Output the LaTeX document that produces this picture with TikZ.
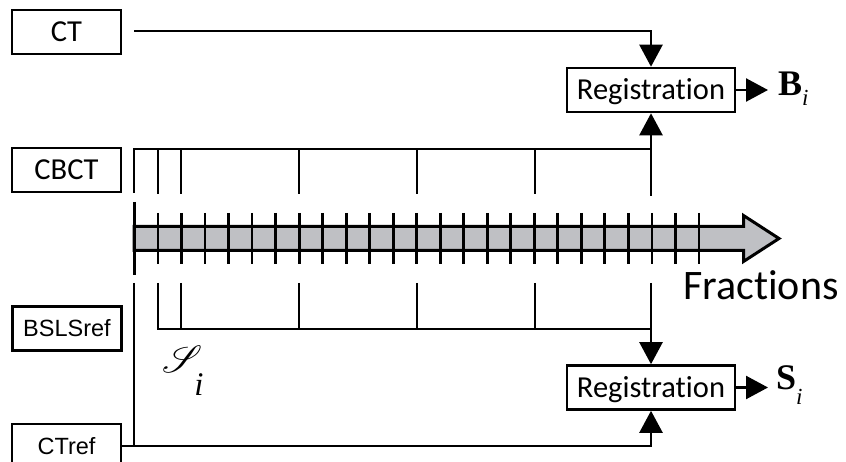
\documentclass[tikz,border=0pt]{standalone}
\usepackage{graphicx}
\usepackage{fontspec}
\usepackage{mathrsfs}
\setmainfont{Carlito}[Ligatures=NoCommon]
\newfontfamily\arialfont{Liberation Sans}
\newfontfamily\timesfont{Liberation Serif}
\usetikzlibrary{arrows.meta}
\definecolor{bandgray}{RGB}{191,192,196}

\begin{document}
\begin{tikzpicture}[x=1pt,y=-1pt,
  box/.style={draw, line width=2.6pt, minimum width=109pt, minimum height=44pt,
    inner sep=0pt, text height=19.6pt, text depth=0pt,
    font=\fontsize{30.5}{30.5}\selectfont},
  refbox/.style={box, text height=16.8pt, font=\arialfont\fontsize{23.5}{23.5}\selectfont},
  regbox/.style={box, minimum width=168pt},
  outlabel/.style={anchor=base west, inner sep=0pt,
    font=\timesfont\fontsize{36}{36}\selectfont\bfseries},
  link/.style={line width=2.4pt},
  tip/.style={link, -{Triangle[length=22pt,width=23pt]}},
  tickmark/.style={line width=2.8pt},
]
\useasboundingbox (0,0) rectangle (846,462);

% input boxes
\node[box]    (ct)    at (66.5,32)  {CT};
\node[box]    (cbct)  at (66.5,170) {CBCT};
\node[refbox] (bsls)  at (67,328.5) {BSLSref};
\node[refbox] (ctref) at (66.5,446) {CTref};

% registration blocks
\node[regbox] (reg1) at (651,90)    {Registration};
\node[regbox] (reg2) at (651,387.5) {Registration};

% outputs
\coordinate (b-end) at (768,90);
\coordinate (s-end) at (768,387.5);
\node[outlabel] (bout) at (778,96)
  {B\raisebox{-10pt}{\mdseries\itshape\fontsize{23}{23}\selectfont i}};
\node[outlabel] (sout) at (776,389)
  {S\raisebox{-15pt}{\mdseries\itshape\fontsize{23}{23}\selectfont i}};
\draw[tip] (reg1.east) -- (b-end);
\draw[tip] (reg2.east) -- (s-end);

% CT to registration
\coordinate (ct-start) at (134,31);
\draw[tip] (ct-start) -- (ct-start -| reg1.north) -- (reg1.north);

% fraction axis
\draw[line width=3pt, fill=bandgray, line join=miter]
  (134,226.5) -- (743.5,226.5) -- (743.5,215.5) -- (779,238.5)
  -- (743.5,261.5) -- (743.5,250.5) -- (134,250.5) -- cycle;
\foreach \k in {0,...,23}
  \draw[tickmark] ({158+23.52*\k},213) -- ({158+23.52*\k},264);
\draw[line width=3pt] (134,202) -- (134,275);
\node[anchor=base west, inner sep=0pt, font=\fontsize{42}{42}\selectfont] (frac) at (683,300) {Fractions};

% CBCT acquisitions
\coordinate (cb-start) at (134,149);
\draw[link] (134,193) -- (cb-start) -- (cb-start -| reg1.south);
\draw[tip] (cb-start -| reg1.south) -- (reg1.south);
\foreach \x in {158,181,299,417,535}
  \draw[link] (\x,149) -- (\x,194);
\draw[link] (651,149) -- (651,196);

% BSLS reference structures
\coordinate (bs-start) at (158,329);
\draw[link] (158,283) -- (bs-start) -- (bs-start -| reg2.north);
\foreach \x in {181,299,417,535}
  \draw[link] (\x,283) -- (\x,329);
\draw[tip] (651,283) -- (reg2.north);
\node[anchor=base west, inner sep=0pt] (si) at (162,372)
  {\scalebox{3.8}{$\mathscr{S}$}\kern-8pt\raisebox{-23pt}{\timesfont\itshape\fontsize{33}{33}\selectfont i}};

% CTref to registration
\draw[link] (134,283) -- (134,446);
\draw[tip] (ctref.east) -- (ctref.east -| reg2.south) -- (reg2.south);
\end{tikzpicture}
\end{document}
